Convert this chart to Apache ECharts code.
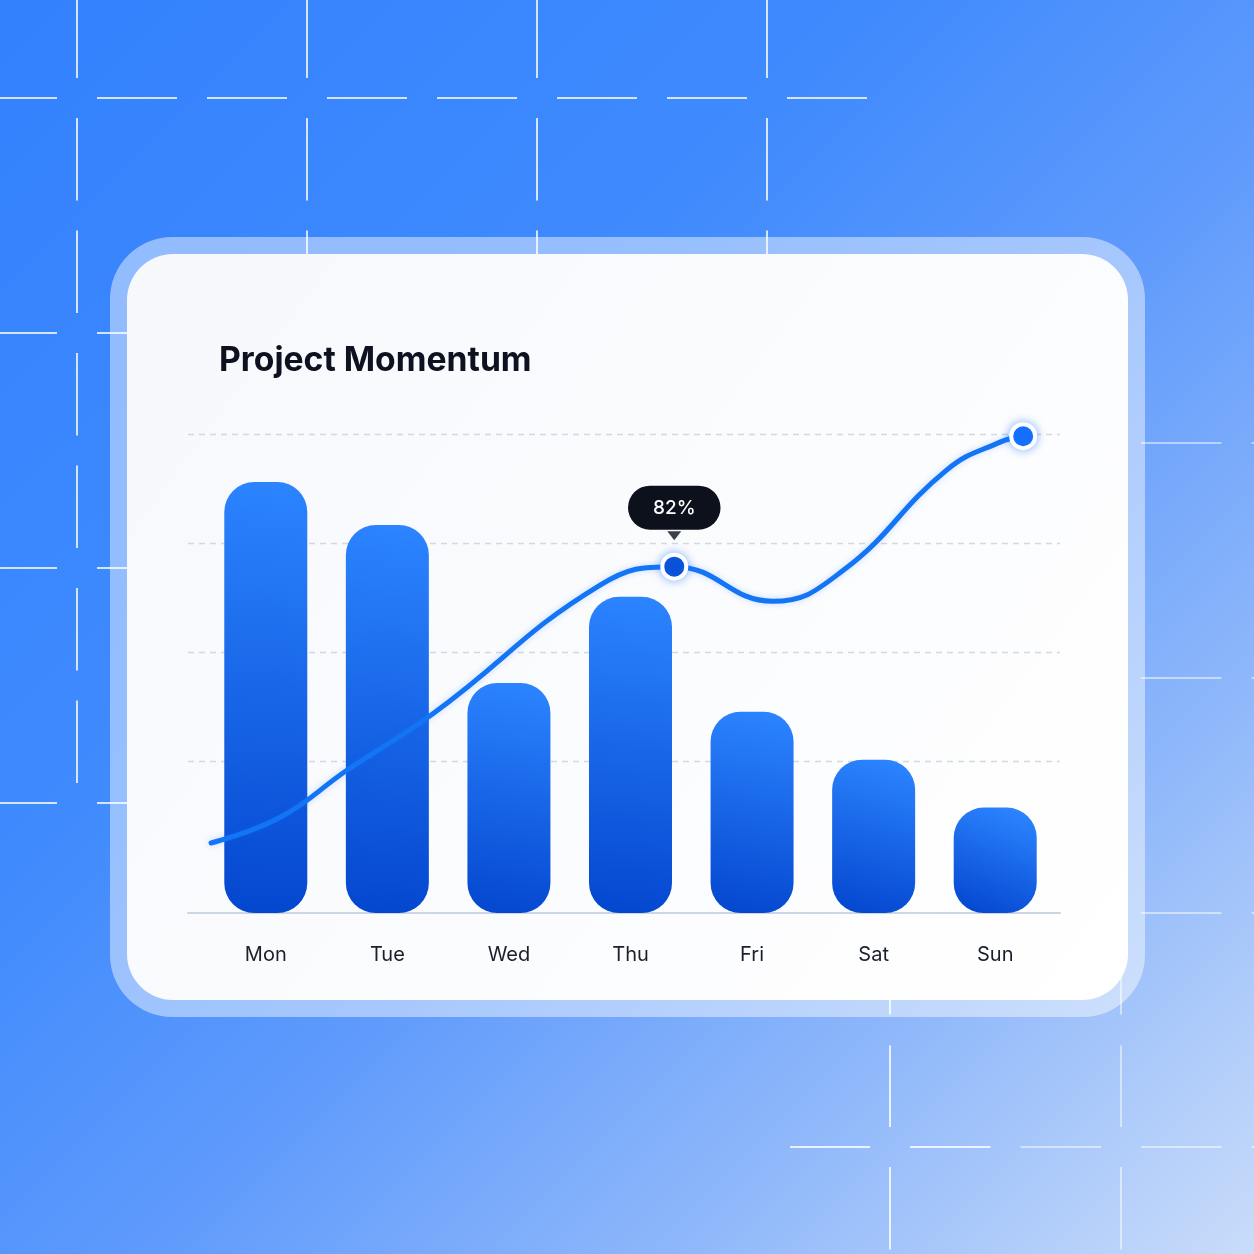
<!DOCTYPE html>
<html>
<head>
<meta charset="utf-8">
<title>Project Momentum</title>
<script src="https://cdn.jsdelivr.net/npm/echarts@6.0.0/dist/echarts.min.js"></script>
<style>
  html, body { margin: 0; padding: 0; }
  body {
    width: 1254px;
    height: 1254px;
    overflow: hidden;
    background: linear-gradient(135deg, #3381fe 0%, #3f8afd 35%, #5e9afc 55%, #91b9fa 78%, #c9dcfa 100%);
  }
  #chart { width: 1254px; height: 1254px; }
</style>
</head>
<body>
<div id="chart"></div>
<script>
// chart data
const days = ['Mon', 'Tue', 'Wed', 'Thu', 'Fri', 'Sat', 'Sun']
const barValues = [90, 81, 48, 66, 42, 32, 22]
// momentum line, x in days (Mon = 0), y in percent
const lineDays = [-0.45, 0.12, 0.67, 1.38, 2.75, 3.36, 4.17, 4.75, 5.60, 6.04, 6.23]
const lineValues = [44.5, 48.0, 54.4, 62.1, 79.5, 82, 77.3, 81.5, 95.1, 98.9, 99.7]
const calloutIndex = 5 // Thu peak with the 82% bubble
const endIndex = lineDays.length - 1

const FONT = 'Inter, "Noto Sans", sans-serif'

// decorative background grid: segments with gaps at crossings and mid points
function segments(from, to, crossings, mids) {
  const gaps = crossings.map(c => [c - 20, c + 20])
    .concat(mids.map(m => [m - 15, m + 15]))
    .sort((a, b) => a[0] - b[0])
  const out = []
  let pos = from
  gaps.forEach(g => {
    if (g[0] > pos && pos < to) out.push([pos, Math.min(g[0], to)])
    pos = Math.max(pos, g[1])
  })
  if (pos < to) out.push([pos, to])
  return out
}

function decoGrid(vx, hy, xRange, yRange, stepX, stepY, alphaOf) {
  const els = []
  const midsX = []
  vx.forEach(v => { midsX.push(v - stepX / 2, v + stepX / 2) })
  const midsY = []
  hy.forEach(h => { midsY.push(h - stepY / 2, h + stepY / 2) })
  hy.forEach(y => {
    segments(xRange[0], xRange[1], vx, midsX).forEach(s => {
      els.push({
        type: 'line', z: -10, silent: true,
        shape: { x1: s[0], y1: y, x2: s[1], y2: y },
        style: { stroke: 'rgba(255,255,255,' + alphaOf((s[0] + s[1]) / 2, y) + ')', lineWidth: 2 }
      })
    })
  })
  vx.forEach(x => {
    segments(yRange[0], yRange[1], hy, midsY).forEach(s => {
      els.push({
        type: 'line', z: -10, silent: true,
        shape: { x1: x, y1: s[0], x2: x, y2: s[1] },
        style: { stroke: 'rgba(255,255,255,' + alphaOf(x, (s[0] + s[1]) / 2) + ')', lineWidth: 2 }
      })
    })
  })
  return els
}

const decoLines = []
  .concat(decoGrid([77, 307, 537, 767], [98, 333, 568, 803], [0, 870], [0, 785], 230, 235,
    () => 0.78))
  .concat(decoGrid([890, 1121], [443, 678, 913, 1147], [790, 1254], [420, 1254], 231, 235,
    x => (x < 1010 ? 0.8 : 0.5)))

const card = [
  {
    type: 'rect', z: -8, silent: true,
    shape: { x: 110, y: 237, width: 1035, height: 780, r: 62 },
    style: { fill: 'rgba(255,255,255,0.45)' }
  },
  {
    type: 'rect', z: -7, silent: true,
    shape: { x: 127, y: 254, width: 1001, height: 746, r: 46 },
    style: {
      fill: {
        type: 'linear', x: 0, y: 0, x2: 1, y2: 1,
        colorStops: [
          { offset: 0, color: '#f6f8fc' },
          { offset: 1, color: '#ffffff' }
        ]
      }
    }
  }
]

const lineData = lineDays.map((d, i) => {
  const item = { value: [d, lineValues[i]] }
  if (i === calloutIndex || i === endIndex) {
    item.symbol = 'circle'
    item.symbolSize = 24
    item.itemStyle = {
      color: i === calloutIndex ? '#0b4fd6' : '#1570ff',
      borderColor: '#ffffff',
      borderWidth: 4,
      shadowBlur: 10,
      shadowColor: 'rgba(22,112,255,0.45)'
    }
  }
  if (i === calloutIndex) {
    item.label = {
      show: true,
      position: 'top',
      distance: 23,
      formatter: p => Math.round(p.value[1]) + '%',
      color: '#ffffff',
      fontFamily: FONT,
      fontSize: 19,
      fontWeight: 500,
      lineHeight: 23,
      backgroundColor: '#0d111b',
      borderRadius: 22,
      padding: [11, 25, 10, 25]
    }
  }
  return item
})

const chart = echarts.init(document.getElementById('chart'), null, { renderer: 'canvas' })

const option = {
  backgroundColor: 'transparent',
  animation: false,
  title: {
    text: 'Project Momentum',
    left: 214,
    top: 339,
    textStyle: { color: '#0d1120', fontFamily: FONT, fontSize: 33.7, fontWeight: 700 }
  },
  graphic: { elements: decoLines.concat(card) },
  grid: [
    // bars and line
    { left: 205, right: 198, top: 434, bottom: 341 },
    // dashed guides and baseline
    { left: 188, right: 194, top: 434, bottom: 384 }
  ],
  xAxis: [
    {
      type: 'category',
      gridIndex: 0,
      data: days,
      axisLine: { show: false },
      axisTick: { show: false },
      axisLabel: { color: '#1b1f2b', fontFamily: FONT, fontSize: 20, margin: 32 }
    },
    { type: 'value', gridIndex: 0, min: -0.5, max: 6.5, show: false },
    {
      type: 'value', gridIndex: 1, min: 0, max: 1, offset: 43,
      axisLine: { show: true, onZero: false, lineStyle: { color: '#cdd6e4', width: 2 } },
      axisTick: { show: false },
      axisLabel: { show: false },
      splitLine: { show: false }
    }
  ],
  yAxis: [
    { type: 'value', gridIndex: 0, min: 0, max: 100, show: false },
    { type: 'value', gridIndex: 0, min: 35, max: 100, show: false },
    {
      type: 'value', gridIndex: 1, min: 0, max: 4, interval: 1,
      axisLine: { show: false },
      axisTick: { show: false },
      axisLabel: { show: false },
      splitLine: {
        show: true,
        showMinLine: false,
        lineStyle: { color: '#d3d8e1', type: [6, 5], width: 1.3 }
      }
    }
  ],
  series: [
    {
      name: 'Tasks',
      type: 'bar',
      xAxisIndex: 0,
      yAxisIndex: 0,
      data: barValues,
      barWidth: 83,
      z: 2,
      itemStyle: {
        borderRadius: 30,
        color: {
          type: 'linear', x: 0.2, y: 1, x2: 0.7, y2: 0,
          colorStops: [
            { offset: 0, color: '#0447cf' },
            { offset: 1, color: '#2c84ff' }
          ]
        }
      }
    },
    {
      name: 'Momentum',
      type: 'line',
      xAxisIndex: 1,
      yAxisIndex: 1,
      data: lineData,
      smooth: 0.45,
      symbol: 'none',
      showSymbol: true,
      z: 5,
      lineStyle: {
        color: '#1474f6',
        width: 5,
        cap: 'round',
        shadowBlur: 6,
        shadowColor: 'rgba(20,116,246,0.25)'
      }
    },
    {
      // pointer under the callout bubble
      name: 'pointer',
      type: 'scatter',
      xAxisIndex: 1,
      yAxisIndex: 1,
      data: [[lineDays[calloutIndex], lineValues[calloutIndex]]],
      symbol: 'triangle',
      symbolRotate: 180,
      symbolSize: [14, 9],
      symbolOffset: [0, -31],
      itemStyle: { color: '#0d111b' },
      z: 6,
      silent: true
    }
  ]
}

chart.setOption(option)
</script>
</body>
</html>
